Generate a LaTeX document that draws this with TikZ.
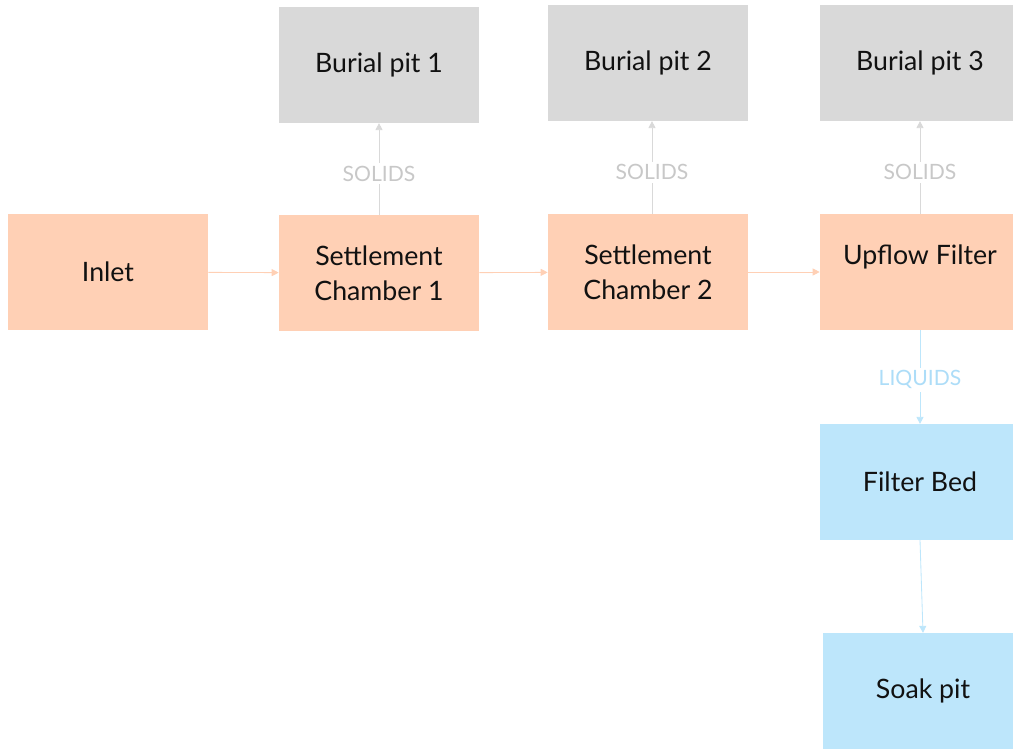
\documentclass[tikz,border=0pt]{standalone}
\usepackage{fontspec}
\setmainfont{Lato}
\definecolor{spPeach}{HTML}{FFD0B5}
\definecolor{spGrey}{HTML}{D9D9D9}
\definecolor{spBlue}{HTML}{BDE6FB}
\definecolor{spSolid}{HTML}{C8C8C8}
\definecolor{spLiquid}{HTML}{ADDDF8}
\definecolor{spText}{HTML}{111111}
\usetikzlibrary{arrows.meta}

\begin{document}
\begin{tikzpicture}[x=0.025cm, y=-0.025cm,
  stage/.style={minimum width=5cm, minimum height=2.89cm, inner sep=0pt,
    font=\fontsize{19}{25}\selectfont, text=spText, align=center},
  flowline/.style={-{Triangle[length=5pt,width=5pt]}, line width=0.6pt},
  tag/.style={fill=white, inner sep=2pt, font=\fontsize{15}{17}\selectfont}]
  \useasboundingbox (0,0) rectangle (1013,749);
  % main line
  \node[stage, fill=spPeach] (inlet) at (108,272) {Inlet};
  \node[stage, fill=spPeach] (sc1) at (379,273) {Settlement\\Chamber 1};
  \node[stage, fill=spPeach] (sc2) at (648,272) {Settlement\\Chamber 2};
  \node[stage, fill=spPeach] (upflow) at (920,272) {Upflow Filter\\\mbox{}};
  % burial pits
  \node[stage, fill=spGrey] (pit1) at (379,65) {Burial pit 1};
  \node[stage, fill=spGrey] (pit2) at (648,63) {Burial pit 2};
  \node[stage, fill=spGrey] (pit3) at (920,63) {Burial pit 3};
  % liquids
  \node[stage, fill=spBlue] (bed) at (920,482) {Filter Bed};
  \node[stage, fill=spBlue] (soak) at (923,691) {Soak pit};

  \draw[flowline, spPeach] (inlet) -- (sc1);
  \draw[flowline, spPeach] (sc1) -- (sc2);
  \draw[flowline, spPeach] (sc2) -- (upflow);
  \draw[flowline, spGrey] (sc1) -- node[tag, text=spSolid, pos=0.45] {SOLIDS} (pit1);
  \draw[flowline, spGrey] (sc2.north -| 652,0) -- node[tag, text=spSolid, pos=0.45] {SOLIDS} (pit2.south -| 652,0);
  \draw[flowline, spGrey] (upflow) -- node[tag, text=spSolid, pos=0.45] {SOLIDS} (pit3);
  \draw[flowline, spBlue] (upflow) -- node[tag, text=spLiquid, pos=0.53] {LIQUIDS} (bed);
  \draw[flowline, spBlue] (bed.south) -- (soak.north);
\end{tikzpicture}
\end{document}
